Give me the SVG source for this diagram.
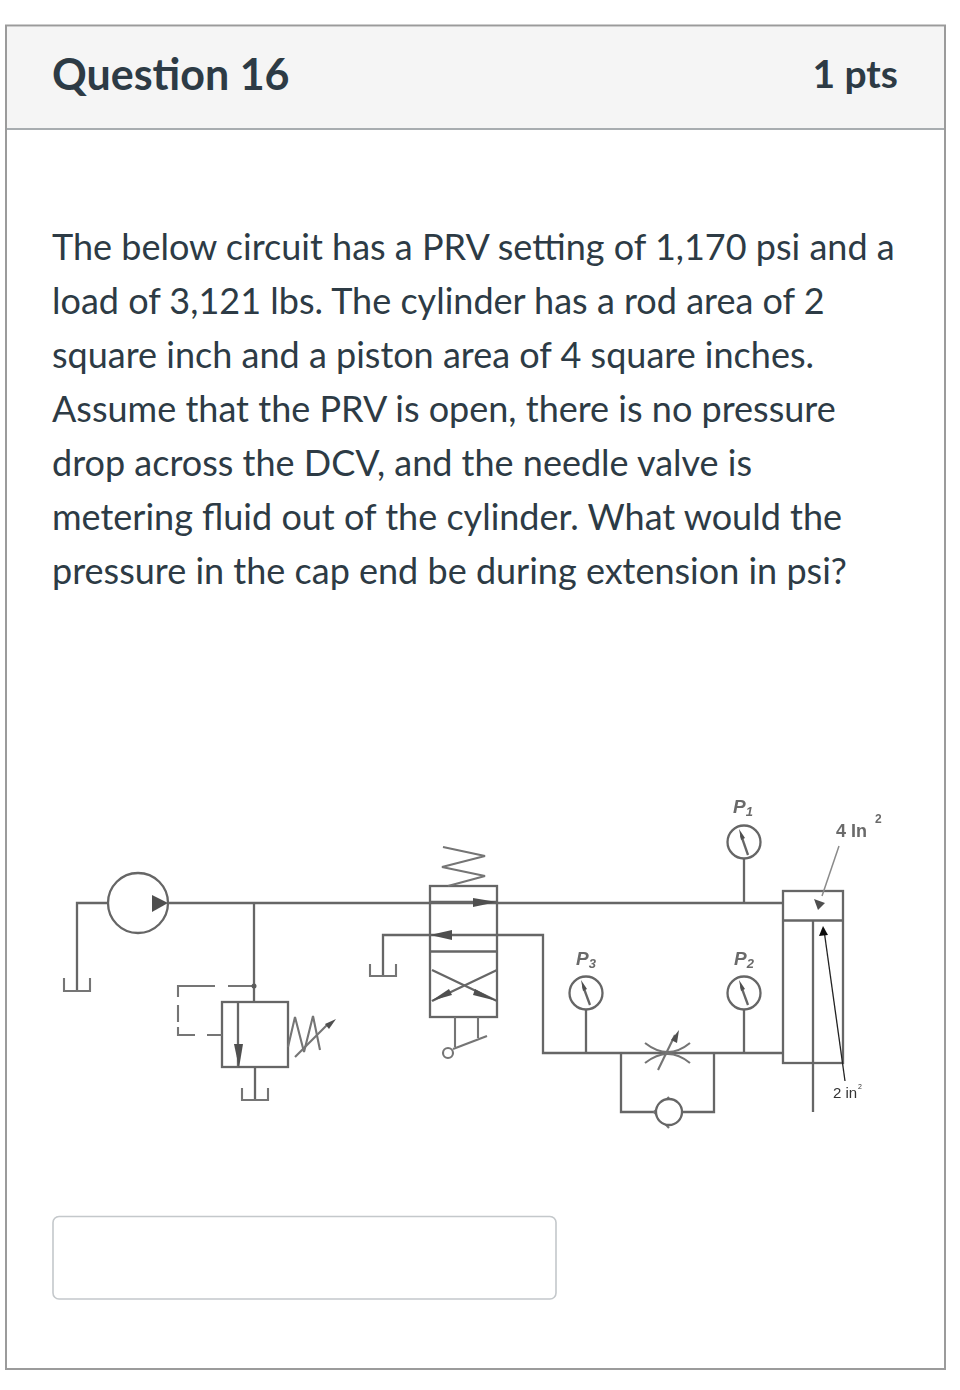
<svg xmlns="http://www.w3.org/2000/svg" width="960" height="1390" viewBox="0 0 960 1390">
<defs><filter id="soft" x="-5%" y="-5%" width="110%" height="110%"><feGaussianBlur stdDeviation="0.45"/></filter></defs>
<style>
.h{font-family:Lato,"Liberation Sans",sans-serif;font-weight:700;font-size:43px;fill:#2d3b45}
.b{font-family:Lato,"Liberation Sans",sans-serif;font-size:36px;fill:#2d3b45}
.l{fill:none;stroke:#666;stroke-width:2.3}
.t{fill:none;stroke:#747474;stroke-width:2.1}
.a{fill:#505050}
.lab{font-family:"Liberation Sans",sans-serif;font-weight:700;fill:#6a6a6a}
.sm{font-family:"Liberation Sans",sans-serif;fill:#333}
</style>
<rect width="960" height="1390" fill="#fff"/>
<g id="card">
<rect x="6" y="25.500" width="939" height="1343.500" fill="#fff" stroke="#9b9b9b" stroke-width="2"/>
<rect x="7" y="27" width="937" height="102" fill="#f5f5f5"/>
<line x1="7" y1="129" x2="944" y2="129" stroke="#a8adb0" stroke-width="2"/>
<text class="h" x="52" y="90">Question 16</text>
<text class="h" x="898" y="88" text-anchor="end" style="font-size:39px">1 pts</text>
</g>
<g id="question">
<text class="b" x="52" y="260">The below circuit has a PRV setting of 1,170 psi and a</text>
<text class="b" x="52" y="314">load of 3,121 lbs. The cylinder has a rod area of 2</text>
<text class="b" x="52" y="368">square inch and a piston area of 4 square inches.</text>
<text class="b" x="52" y="422">Assume that the PRV is open, there is no pressure</text>
<text class="b" x="52" y="476">drop across the DCV, and the needle valve is</text>
<text class="b" x="52" y="530">metering fluid out of the cylinder. What would the</text>
<text class="b" x="52" y="584">pressure in the cap end be during extension in psi?</text>
</g>
<g id="answer-box"><rect x="53" y="1216.500" width="503" height="82.500" rx="6" fill="#fff" stroke="#c4c8cb" stroke-width="1.600"/></g>
<g id="circuit" filter="url(#soft)">
<g id="connectors">
<path class="l" d="M168 903H782"/>
<path class="l" d="M108 903H77V990"/>
<path class="l" d="M254 903V1002"/>
<path class="l" d="M255 1067V1099"/>
<path class="l" d="M430 935H383V975"/>
<path class="l" d="M497 935H543V1053H783"/>
<path class="l" d="M586 1009V1053"/>
<path class="l" d="M744 858V902"/>
<path class="l" d="M744 1009V1053"/>
<path class="l" d="M621 1053V1112H655M682 1112H714V1053"/>
</g>
<g id="pump">
<circle class="l" cx="138" cy="903" r="30" fill="#fff"/>
<path class="a" d="M152 895L168 903L152 912Z"/>
</g>
<g id="tank-1"><path class="t" d="M64 978V991H90V978"/></g>
<g id="prv">
<rect x="222" y="1002" width="66" height="65" fill="#fff" class="l"/>
<path d="M238 1002V1067" class="l"/>
<path class="a" d="M234 1044H243L239 1068Z"/>
<path class="t" d="M288 1047L295 1017L304 1052L313 1016L320 1050"/>
<path class="t" d="M295 1057L328 1024"/>
<path class="a" d="M336 1019L325 1024L329 1029Z"/>
</g>
<g id="prv-pilot">
<path class="t" d="M254 986H228M215 986H178V997M178 1005V1022M178 1027V1035H195M207 1035H222"/>
<circle cx="254" cy="986" r="2.500" fill="#5c5c5c"/>
</g>
<g id="tank-2"><path class="t" d="M242 1088V1100H268V1088"/></g>
<g id="dcv">
<rect x="430" y="886" width="67" height="131" fill="none" class="l"/>
<path class="l" d="M430 951.500H497"/>
<path class="l" d="M430 902H497M430 935H497"/>
<path class="a" d="M473 898L497 902L473 907Z"/>
<path class="a" d="M452 930V940L430 935Z"/>
<path class="l" d="M432 970L497 1001M497 970L432 1001"/>
<path class="a" d="M431 1001L449 989L452 995Z"/>
<path class="a" d="M497 1001L475 989L473 995Z"/>
<path class="t" d="M443 847L485 856L442 867L485 876L448 886"/>
<path class="t" d="M455 1017V1047M478 1017V1038"/>
<path class="t" d="M453 1049L487 1036"/>
<circle class="t" cx="448" cy="1053" r="5"/>
</g>
<g id="tank-3"><path class="t" d="M370 964V976H396V964"/></g>
<g id="gauge-p1">
<circle class="l" cx="744" cy="842" r="16.500" fill="#efefef"/>
<path class="l" d="M741 835L748 855"/><path class="a" d="M739 829L745 838L741 840Z"/>
<text class="lab" x="733" y="813" font-size="19" font-style="italic">P<tspan font-size="13" dy="3">1</tspan></text>
</g>
<g id="gauge-p2">
<circle class="l" cx="744" cy="993" r="16.500" fill="#fff"/>
<path class="l" d="M741 986L748 1005"/><path class="a" d="M739 980L745 989L741 991Z"/>
<text class="lab" x="734" y="965" font-size="19" font-style="italic">P<tspan font-size="13" dy="3">2</tspan></text>
</g>
<g id="gauge-p3">
<circle class="l" cx="586" cy="993" r="16.500" fill="#fff"/>
<path class="l" d="M583 986L590 1005"/><path class="a" d="M581 980L587 989L583 991Z"/>
<text class="lab" x="576" y="965" font-size="19" font-style="italic">P<tspan font-size="13" dy="3">3</tspan></text>
</g>
<g id="needle-valve">
<path class="t" d="M645 1043Q668 1061 690 1043M645 1063Q668 1045 690 1063"/>
<path class="t" d="M658 1070L675 1035"/>
<path class="a" d="M679 1030L671 1040L677 1043Z"/>
</g>
<g id="check-valve">
<path class="t" d="M669 1097L654 1112L669 1128"/>
<circle class="l" cx="669" cy="1112" r="13" style="fill:#fff"/>
</g>
<g id="cylinder">
<rect x="783" y="891" width="60" height="172" fill="none" class="l"/>
<path class="l" d="M783 920.500H843"/>
<path class="l" d="M813 921V1112"/>
<path d="M839 846L822 896" fill="none" stroke="#8a8a8a" stroke-width="1.500"/>
<path class="a" d="M814 899L825 903L818 910Z"/>
<path d="M824 930L845 1081" fill="none" stroke="#222" stroke-width="1.300"/>
<path d="M823 926L819 936L828 935Z" fill="#111"/>
<text class="lab" x="836" y="837" font-size="18">4 In</text>
<text class="lab" x="875" y="823" font-size="12">2</text>
<text class="sm" x="833" y="1098" font-size="15">2 in</text>
<text class="sm" x="858" y="1089" font-size="7">2</text>
</g>
</g>
</svg>
